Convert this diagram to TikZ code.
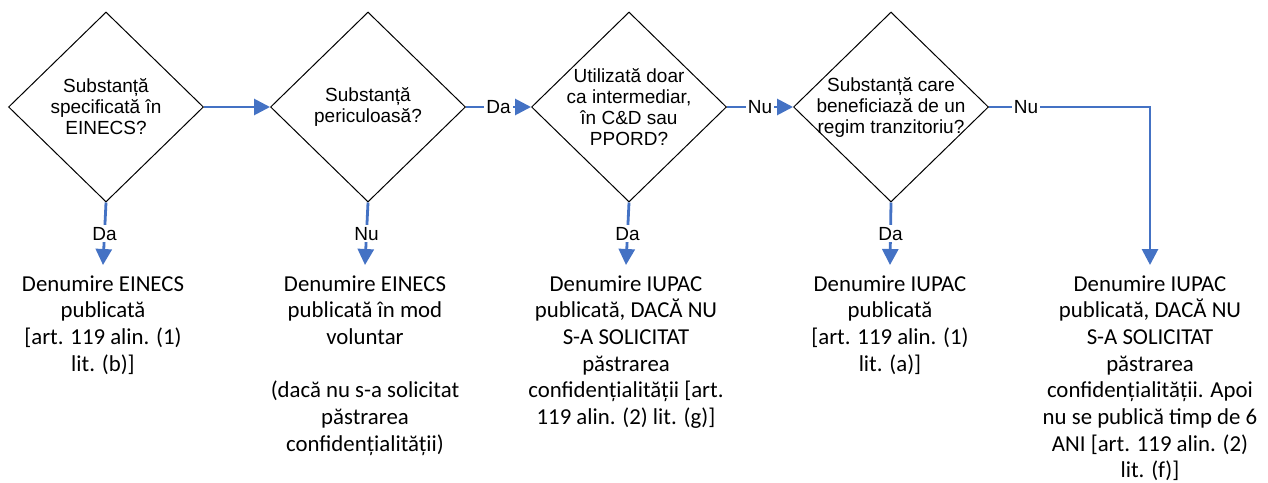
\documentclass[tikz,border=0pt]{standalone}
\usepackage{fontspec}
\setmainfont{Carlito}
\newfontfamily\arialf{Liberation Sans}
\usetikzlibrary{shapes.geometric,arrows.meta}
\definecolor{flowblue}{HTML}{4472C4}
\begin{document}
\begin{tikzpicture}[x=0.5pt,y=-0.5pt,>={Triangle[length=8pt,width=8pt]},
    decision/.style={draw,diamond,line width=0.5pt,minimum width=97.5pt,minimum height=95pt,inner sep=0pt},
    qtext/.style={font=\arialf\fontsize{9.5}{10.5}\selectfont,align=center},
    answer/.style={font=\arialf\fontsize{9.5}{10.5}\selectfont,text=black,fill=white,inner sep=1pt},
    result/.style={font=\fontsize{11.4}{13.35}\selectfont,align=center,anchor=north,inner xsep=0pt,inner ysep=5pt},
    flow/.style={->,flowblue,line width=1.4pt}]
        \useasboundingbox(0,0)rectangle(1268,482);
        \node[decision,label={[qtext]center:{Substanță\\specificată în\\EINECS?}}](q1)at(106,107){};
        \node[decision,label={[qtext]center:{Substanță\\periculoasă?}}](q2)at(368,107){};
        \node[decision,label={[qtext]center:{Utilizată doar\\ca intermediar,\\în C\&D sau\\PPORD?}}](q3)at(629,107){};
        \node[decision,label={[qtext]center:{Substanță care\\beneficiază de un\\regim tranzitoriu?}}](q4)at(891,107){};
        \node[result](r1)at(103,265){Denumire EINECS\\publicată\\{}[art. 119 alin. (1)\\lit. (b)]};
        \node[result](r2)at(365,265){Denumire EINECS\\publicată în mod\\voluntar\\[13.35pt](dacă nu s-a solicitat\\păstrarea\\confidențialității)};
        \node[result](r3)at(626,265){Denumire IUPAC\\publicată, DACĂ NU\\S-A SOLICITAT\\păstrarea\\confidențialității [art.\\119 alin. (2) lit. (g)]};
        \node[result](r4)at(890,265){Denumire IUPAC\\publicată\\{}[art. 119 alin. (1)\\lit. (a)]};
        \node[result](r5)at(1150,265){Denumire IUPAC\\publicată, DACĂ NU\\S-A SOLICITAT\\păstrarea\\confidențialității. Apoi\\nu se publică timp de 6\\ANI [art. 119 alin. (2)\\lit. (f)]};
        % horizontal flow
        \draw[flow](q1)--(q2);
        \draw[flow](q2)--node[answer]{Da}(q3);
        \draw[flow](q3)--node[answer]{Nu}(q4);
        \draw[flow](q4.east)-|node[answer,pos=0.115]{Nu}(r5.north);
        % down to results
        \draw[flow](q1.south)--node[answer]{Da}(r1.north);
        \draw[flow](q2.south)--node[answer]{Nu}(r2.north);
        \draw[flow](q3.south)--node[answer]{Da}(r3.north);
        \draw[flow](q4.south)--node[answer]{Da}(r4.north);
    \end{tikzpicture}
\end{document}
